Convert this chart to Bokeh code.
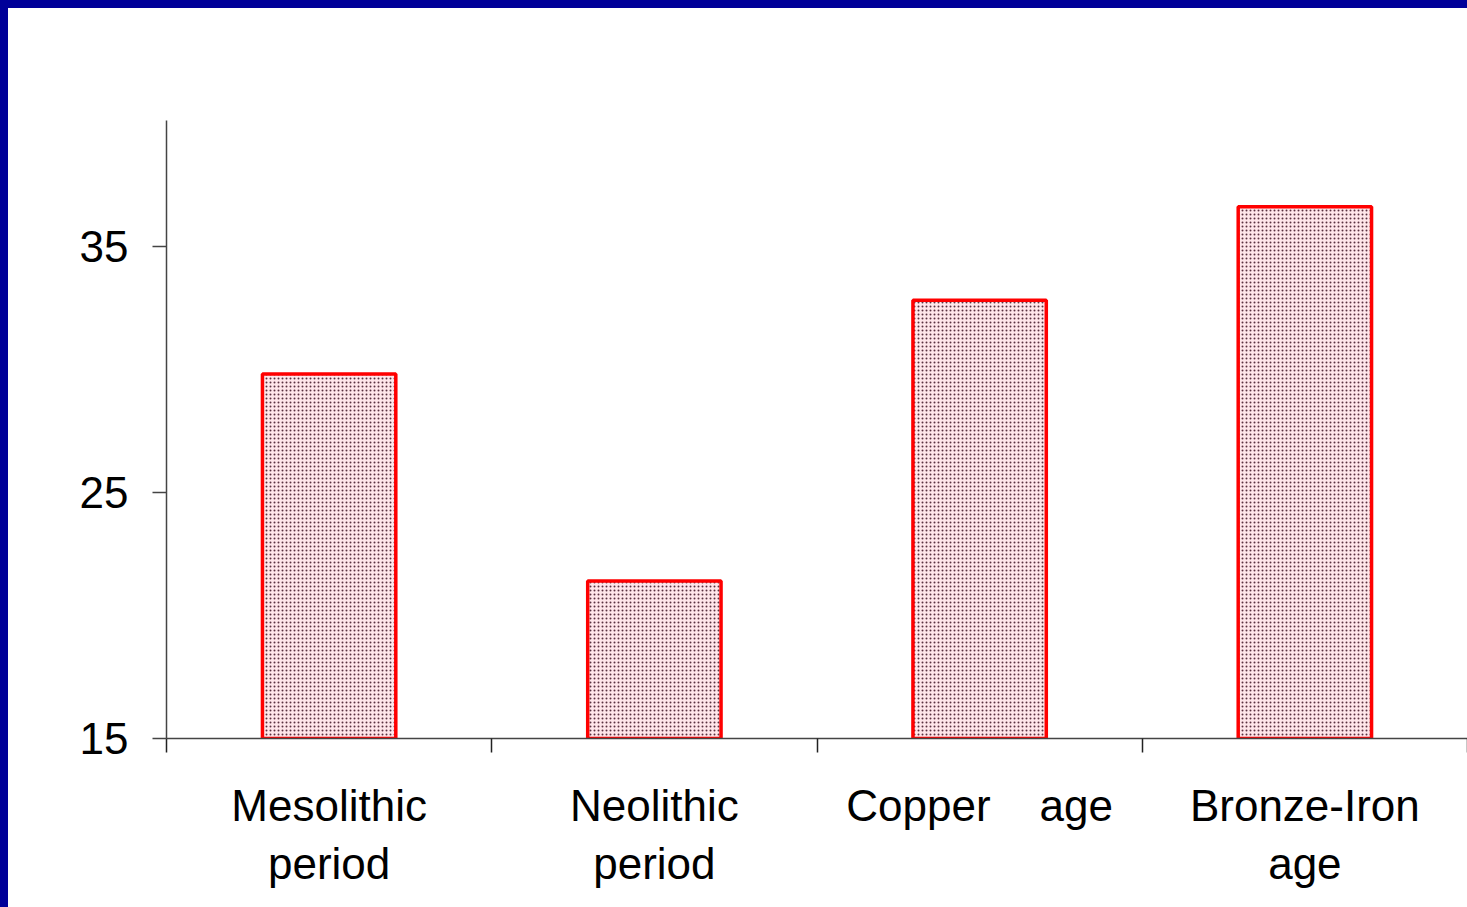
from bokeh.plotting import figure
from bokeh.models import ColumnDataSource, FixedTicker, Range1d, GlobalInlineStyleSheet
from bokeh.embed import file_html
from bokeh.resources import INLINE

categories = ["Mesolithic\nperiod", "Neolithic\nperiod", "Copper\u00a0\u00a0\u00a0\u00a0age", "Bronze-Iron\nage"]
values = [29.8, 21.4, 32.8, 36.6]
y_ticks = [15, 25, 35]

xs = [i + 0.5 for i in range(len(categories))]
src = ColumnDataSource(dict(x=xs, top=values))

p = figure(width=1459, height=899, output_backend="svg", toolbar_location=None,
           x_range=Range1d(0, len(categories)), y_range=Range1d(15, 40.1),
           min_border_left=158, min_border_top=112, min_border_right=0, min_border_bottom=169)
p.stylesheets = [GlobalInlineStyleSheet(
    css="html, body { background: #000099; margin: 0; } body { padding: 8px 0 0 8px; }")]
p.styles = {"background-color": "white"}
p.background_fill_color = "white"
p.border_fill_color = "white"
p.outline_line_color = None
p.grid.visible = False

p.vbar(x="x", top="top", bottom=15, width=0.41, source=src,
       fill_color="#ffe6ea", line_color="#ff0000", line_width=3.5,
       hatch_pattern="dot", hatch_color="#5a3040", hatch_scale=4, hatch_weight=1.6)

xa = p.xaxis[0]
xa.ticker = FixedTicker(ticks=xs, minor_ticks=list(range(len(categories) + 1)))
xa.major_label_overrides = {x: c for x, c in zip(xs, categories)}
xa.major_tick_out = 0
xa.major_tick_in = 0
xa.minor_tick_out = 14
xa.minor_tick_in = 0
xa.minor_tick_line_color = "#222222"
xa.minor_tick_line_width = 1.5
xa.axis_line_color = "#444444"
xa.axis_line_width = 1.5
xa.major_label_text_font = "Liberation Sans"
xa.major_label_text_font_size = "44px"
xa.major_label_text_color = "black"
xa.major_label_standoff = 28

ya = p.yaxis[0]
ya.ticker = FixedTicker(ticks=y_ticks, minor_ticks=[])
ya.major_tick_out = 14
ya.major_tick_in = 0
ya.major_tick_line_color = "#444444"
ya.major_tick_line_width = 1.5
ya.axis_line_color = "#444444"
ya.axis_line_width = 1.5
ya.major_label_text_font = "Liberation Sans"
ya.major_label_text_font_size = "44px"
ya.major_label_text_color = "black"
ya.major_label_standoff = 24

open("out.html", "w").write(file_html(p, INLINE))
